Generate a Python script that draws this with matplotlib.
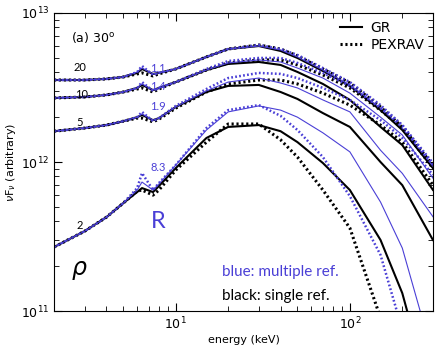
import numpy as np
import matplotlib.pyplot as plt

# energy grid (keV)
energy = [2, 3, 4, 5, 6, 6.4, 7.4, 8, 10, 15, 20, 30, 40, 50, 70, 100, 150, 200, 300]

# nuF_nu in units of 1e12
# rho = 20
gr_single_20 = [3.55, 3.55, 3.61, 3.72, 3.96, 4.21, 3.90, 3.96, 4.21, 5.07, 5.73, 6.00, 5.56, 4.99, 4.08, 3.24, 2.23, 1.64, 0.91]
px_single_20 = [3.55, 3.55, 3.61, 3.72, 3.90, 3.96, 3.78, 3.90, 4.21, 5.07, 5.73, 6.10, 5.73, 5.15, 4.21, 3.39, 2.34, 1.72, 0.95]
gr_multi_20 = [3.55, 3.55, 3.61, 3.72, 4.02, 4.27, 3.90, 3.96, 4.21, 5.07, 5.73, 6.00, 5.65, 5.07, 4.14, 3.29, 2.30, 1.69, 0.94]
px_multi_20 = [3.55, 3.55, 3.61, 3.72, 4.02, 4.41, 3.84, 3.96, 4.21, 5.07, 5.73, 6.10, 5.73, 5.23, 4.27, 3.44, 2.41, 1.77, 0.985]
# rho = 10
gr_single_10 = [2.69, 2.73, 2.82, 2.95, 3.14, 3.29, 3.04, 3.14, 3.44, 4.14, 4.55, 4.69, 4.48, 4.02, 3.34, 2.61, 1.72, 1.30, 0.65]
px_single_10 = [2.69, 2.73, 2.82, 2.95, 3.09, 3.14, 2.95, 3.09, 3.44, 4.14, 4.62, 4.84, 4.84, 4.48, 3.84, 3.14, 2.23, 1.69, 0.91]
gr_multi_10 = [2.69, 2.73, 2.82, 2.95, 3.14, 3.34, 3.04, 3.14, 3.44, 4.14, 4.62, 4.84, 4.69, 4.27, 3.66, 2.90, 2.00, 1.52, 0.78]
px_multi_10 = [2.69, 2.73, 2.82, 2.95, 3.14, 3.44, 3.00, 3.14, 3.44, 4.21, 4.76, 4.99, 4.99, 4.62, 3.96, 3.24, 2.30, 1.77, 0.95]
# rho = 5
gr_single_5 = [1.61, 1.69, 1.77, 1.88, 2.00, 2.07, 1.91, 1.97, 2.34, 2.95, 3.24, 3.29, 2.95, 2.65, 2.13, 1.72, 1.00, 0.70, 0.30]
px_single_5 = [1.61, 1.69, 1.77, 1.88, 1.97, 1.97, 1.86, 1.94, 2.30, 2.95, 3.34, 3.55, 3.55, 3.34, 2.90, 2.41, 1.77, 1.36, 0.70]
gr_multi_5 = [1.61, 1.69, 1.77, 1.88, 2.00, 2.10, 1.91, 1.97, 2.34, 3.00, 3.44, 3.66, 3.39, 3.14, 2.61, 2.17, 1.20, 0.84, 0.43]
px_multi_5 = [1.61, 1.69, 1.77, 1.88, 2.00, 2.17, 1.88, 1.97, 2.38, 3.09, 3.66, 3.96, 3.90, 3.66, 3.14, 2.61, 1.91, 1.45, 0.82]
# rho = 2
gr_single_2 = [0.269, 0.344, 0.427, 0.531, 0.629, 0.669, 0.629, 0.690, 0.911, 1.45, 1.72, 1.77, 1.61, 1.36, 0.985, 0.649, 0.300, 0.132, 0.0234]
px_single_2 = [0.269, 0.344, 0.427, 0.531, 0.639, 0.649, 0.600, 0.649, 0.884, 1.36, 1.80, 1.80, 1.41, 1.08, 0.649, 0.361, 0.090, 0.034, 0.0086]
gr_multi_2 = [0.269, 0.344, 0.427, 0.531, 0.649, 0.734, 0.649, 0.712, 0.955, 1.64, 2.17, 2.38, 2.23, 2.00, 1.57, 1.17, 0.539, 0.265, 0.050]
px_multi_2 = [0.269, 0.344, 0.427, 0.531, 0.669, 0.844, 0.649, 0.723, 0.955, 1.69, 2.23, 2.41, 2.04, 1.64, 1.08, 0.591, 0.238, 0.075, 0.0117]

rho_labels = ['20', '10', '5', '2']
ratio_labels = ['1.1', '1.4', '1.9', '8.3']

blue = '#4a3fd6'
hum = ['Lato', 'DejaVu Sans']

E = np.array(energy)
fig = plt.figure(figsize=(4.36, 3.5), dpi=100)
ax = fig.add_axes([0.124, 0.111, 0.869, 0.852])

groups = [
    (gr_single_20, px_single_20, gr_multi_20, px_multi_20),
    (gr_single_10, px_single_10, gr_multi_10, px_multi_10),
    (gr_single_5, px_single_5, gr_multi_5, px_multi_5),
    (gr_single_2, px_single_2, gr_multi_2, px_multi_2),
]
dots = (0, (0.7, 0.9))
for gs, ps, gm, pm in groups:
    ax.plot(E, np.array(gs) * 1e12, color='black', lw=1.5)
    ax.plot(E, np.array(ps) * 1e12, color='black', lw=2.2, ls=dots)
    ax.plot(E, np.array(gm) * 1e12, color=blue, lw=0.8)
    ax.plot(E, np.array(pm) * 1e12, color=blue, lw=1.8, ls=dots)

ax.set_xscale('log')
ax.set_yscale('log')
ax.set_xlim(2, 300)
ax.set_ylim(1e11, 1e13)
ax.tick_params(which='both', direction='in', top=True, right=True, labelsize=9)
ax.tick_params(which='major', length=6)
ax.tick_params(which='minor', length=3.5)
ax.set_xlabel('energy (keV)', fontsize=8, labelpad=2)
ax.set_ylabel(r'$\nu$F$_\nu$ (arbitrary)', fontsize=8, labelpad=2)

# legend
ax.plot([], [], color='black', lw=1.5, label='GR')
ax.plot([], [], color='black', lw=2.2, ls=dots, label='PEXRAV')
handles, labels = ax.get_legend_handles_labels()
ax.legend(handles[-2:], labels[-2:], loc='upper right', frameon=False, fontsize=10,
          handlelength=1.6, handletextpad=0.6, borderaxespad=0.2, labelspacing=0.2)

ax.text(2.5, 6.8e12, r'(a) 30$^\mathrm{o}$', fontsize=9, va='center')
for lab, (xe, ye) in zip(rho_labels, [(2.81, 4.34e12), (2.87, 2.82e12), (2.81, 1.83e12), (2.81, 0.378e12)]):
    ax.text(xe, ye, lab, fontsize=8, family=hum, ha='center', va='center')
for lab, (xe, ye) in zip(ratio_labels, [(7.9, 4.21e12), (7.9, 3.19e12), (7.9, 2.34e12), (7.9, 0.92e12)]):
    ax.text(xe, ye, lab, fontsize=8, family=hum, color=blue, ha='center', va='center')
ax.text(7.9, 0.40e12, 'R', fontsize=17, family=hum, color=blue, ha='center', va='center')
ax.text(2.81, 0.19e12, r'$\rho$', fontsize=17, ha='center', va='center')
ax.text(18.5, 0.183e12, 'blue: multiple ref.', fontsize=11, family=hum, color=blue, va='center')
ax.text(18.5, 0.126e12, 'black: single ref.', fontsize=11, family=hum, color='black', va='center')

fig.savefig('out.png', dpi=100)
